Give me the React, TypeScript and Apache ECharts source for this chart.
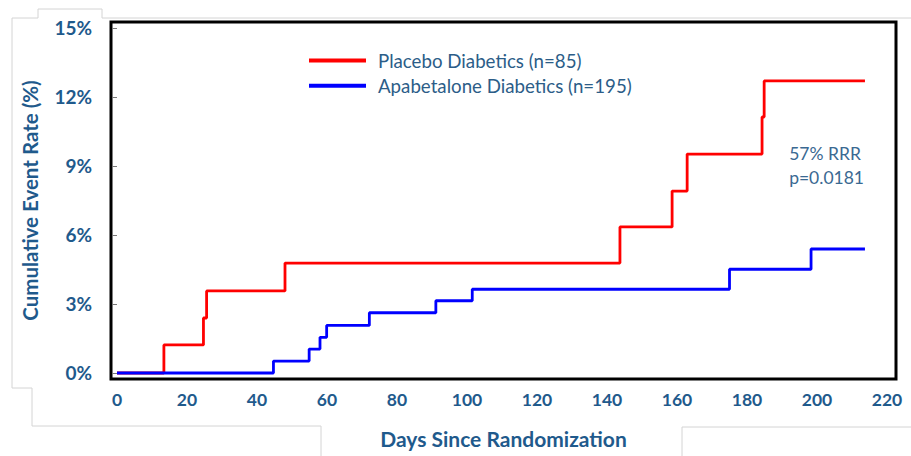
import React, { useEffect, useRef } from "react";
import * as echarts from "echarts";

const placeboDays = [0, 13.4, 24.7, 25.6, 48, 143.7, 158.6, 162.9, 184.3, 184.9, 213.7];
const placeboRates = [0, 1.22, 2.39, 3.57, 4.78, 6.35, 7.91, 9.52, 11.13, 12.7, 12.7];

const apabetaloneDays = [0, 44.7, 54.9, 58, 59.9, 72.1, 91.1, 101.5, 175, 198.3, 213.7];
const apabetaloneRates = [0, 0.52, 1.04, 1.55, 2.07, 2.62, 3.14, 3.64, 4.51, 5.39, 5.39];

const xTickValues = [0, 20, 40, 60, 80, 100, 120, 140, 160, 180, 200, 220];
const yTickValues = [0, 3, 6, 9, 12, 15];

const seriesNames = ["Placebo Diabetics (n=85)", "Apabetalone Diabetics (n=195)"];
const annotationLines = ["57% RRR", "p=0.0181"];

const FONT = "Lato";
const BOLD_BLUE = "#1f5a8c";
const TEXT_BLUE = "#2c5d88";

export default function App() {
  const ref = useRef<HTMLDivElement>(null);

  useEffect(() => {
    if (!ref.current) return;
    const chart = echarts.init(ref.current, null, { renderer: "svg" });
    const zip = (xs: number[], ys: number[]) => xs.map((x, i) => [x, ys[i]]);

    chart.setOption({
      animation: false,
      backgroundColor: "#ffffff",
      grid: {
        left: 111,
        right: 15,
        top: 22,
        bottom: 77,
        show: true,
        borderColor: "#000000",
        borderWidth: 3,
        backgroundColor: "transparent",
      },
      legend: {
        orient: "vertical",
        left: 309,
        top: 51,
        padding: 0,
        icon: "rect",
        itemWidth: 57,
        itemHeight: 4,
        itemGap: 6.3,
        data: seriesNames,
        textStyle: {
          fontFamily: FONT,
          fontSize: 18.7,
          lineHeight: 18,
          color: TEXT_BLUE,
          padding: [0, 0, 0, 7],
        },
      },
      xAxis: {
        type: "value",
        min: -1.714,
        max: 222.57,
        name: "Days Since Randomization",
        nameLocation: "middle",
        nameGap: 48.5,
        nameTextStyle: { fontFamily: FONT, fontWeight: "bold", fontSize: 21, color: BOLD_BLUE },
        axisLine: { show: false },
        axisTick: { show: false },
        splitLine: { show: false },
        axisLabel: {
          customValues: xTickValues,
          margin: 11,
          fontFamily: FONT,
          fontWeight: "bold",
          fontSize: 17.5,
          color: BOLD_BLUE,
          formatter: (v: number) => String(Math.round(v)),
        },
      },
      yAxis: {
        type: "value",
        min: -0.261,
        max: 15.26,
        name: "Cumulative Event Rate (%)",
        nameLocation: "middle",
        nameGap: 70.5,
        nameTextStyle: { fontFamily: FONT, fontWeight: "bold", fontSize: 20.5, color: BOLD_BLUE },
        axisLine: { show: false },
        axisTick: {
          show: true,
          customValues: yTickValues,
          length: 5,
          lineStyle: { color: "#777777", width: 1 },
        },
        splitLine: { show: false },
        axisLabel: {
          customValues: yTickValues,
          margin: 19,
          fontFamily: FONT,
          fontWeight: "bold",
          fontSize: 19,
          color: BOLD_BLUE,
          formatter: (v: number) => Math.round(v) + "%",
        },
      },
      series: [
        {
          name: seriesNames[0],
          type: "line",
          step: "end",
          symbol: "none",
          color: "#ff0000",
          lineStyle: { color: "#ff0000", width: 2.8 },
          data: zip(placeboDays, placeboRates),
        },
        {
          name: seriesNames[1],
          type: "line",
          step: "end",
          symbol: "none",
          color: "#0000ff",
          lineStyle: { color: "#0000ff", width: 2.8 },
          data: zip(apabetaloneDays, apabetaloneRates),
        },
      ],
      graphic: [
        {
          type: "polyline",
          silent: true,
          z: -10,
          shape: {
            points: [
              [911, 18], [102, 18], [102, 9], [38, 9], [38, 18], [12, 18], [12, 388],
              [32, 388], [32, 426], [321, 426], [321, 456],
            ],
          },
          style: { stroke: "#d4d4d4", lineWidth: 1, fill: null },
        },
        {
          type: "polyline",
          silent: true,
          z: -10,
          shape: { points: [[682, 456], [682, 427], [911, 427]] },
          style: { stroke: "#d4d4d4", lineWidth: 1, fill: null },
        },
        {
          type: "text",
          right: 911 - 864,
          top: 141,
          style: {
            text: annotationLines.join("\n"),
            align: "right",
            fontFamily: FONT,
            fontSize: 17.5,
            lineHeight: 24,
            fill: "#3a6992",
          },
        },
      ],
    });

    return () => chart.dispose();
  }, []);

  return (
    <div
      ref={ref}
      style={{ position: "fixed", left: 0, top: 0, width: 911, height: 456, background: "#ffffff" }}
    />
  );
}
